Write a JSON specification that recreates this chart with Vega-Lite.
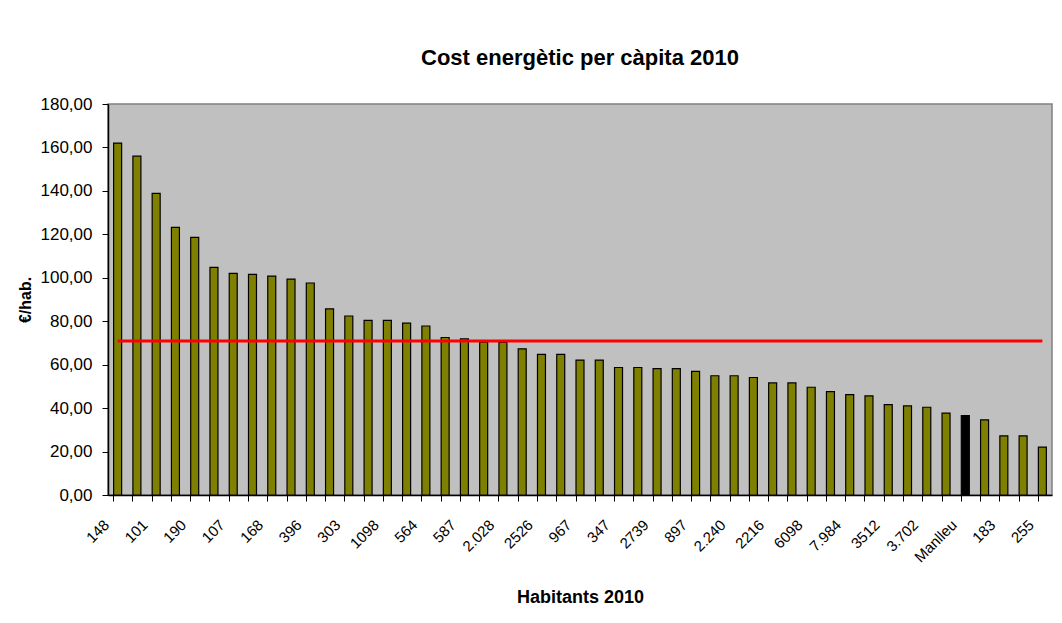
{
  "$schema": "https://vega.github.io/schema/vega-lite/v6.json",
  "width": 944,
  "height": 391,
  "autosize": "none",
  "padding": {"left": 108, "top": 104, "right": 10, "bottom": 128},
  "background": "white",
  "config": {
    "font": "Liberation Sans",
    "view": {"fill": "#C0C0C0", "stroke": "#808080", "strokeWidth": 1.5}
  },
  "title": {
    "text": "Cost energètic per càpita 2010",
    "font": "Liberation Sans",
    "fontSize": 22,
    "fontWeight": "bold",
    "color": "black",
    "anchor": "middle",
    "offset": 25
  },
  "data": {
    "values": [
      {"n": 1, "habitants": "148", "cost": 162.0, "mitjana": 70.9},
      {"n": 2, "habitants": null, "cost": 156.0, "mitjana": 70.9},
      {"n": 3, "habitants": "101", "cost": 138.9, "mitjana": 70.9},
      {"n": 4, "habitants": null, "cost": 123.2, "mitjana": 70.9},
      {"n": 5, "habitants": "190", "cost": 118.6, "mitjana": 70.9},
      {"n": 6, "habitants": null, "cost": 104.8, "mitjana": 70.9},
      {"n": 7, "habitants": "107", "cost": 102.0, "mitjana": 70.9},
      {"n": 8, "habitants": null, "cost": 101.6, "mitjana": 70.9},
      {"n": 9, "habitants": "168", "cost": 100.8, "mitjana": 70.9},
      {"n": 10, "habitants": null, "cost": 99.4, "mitjana": 70.9},
      {"n": 11, "habitants": "396", "cost": 97.6, "mitjana": 70.9},
      {"n": 12, "habitants": null, "cost": 85.7, "mitjana": 70.9},
      {"n": 13, "habitants": "303", "cost": 82.4, "mitjana": 70.9},
      {"n": 14, "habitants": null, "cost": 80.4, "mitjana": 70.9},
      {"n": 15, "habitants": "1098", "cost": 80.4, "mitjana": 70.9},
      {"n": 16, "habitants": null, "cost": 79.1, "mitjana": 70.9},
      {"n": 17, "habitants": "564", "cost": 77.8, "mitjana": 70.9},
      {"n": 18, "habitants": null, "cost": 72.5, "mitjana": 70.9},
      {"n": 19, "habitants": "587", "cost": 71.9, "mitjana": 70.9},
      {"n": 20, "habitants": null, "cost": 70.4, "mitjana": 70.9},
      {"n": 21, "habitants": "2.028", "cost": 70.2, "mitjana": 70.9},
      {"n": 22, "habitants": null, "cost": 67.3, "mitjana": 70.9},
      {"n": 23, "habitants": "2526", "cost": 64.7, "mitjana": 70.9},
      {"n": 24, "habitants": null, "cost": 64.7, "mitjana": 70.9},
      {"n": 25, "habitants": "967", "cost": 62.1, "mitjana": 70.9},
      {"n": 26, "habitants": null, "cost": 62.1, "mitjana": 70.9},
      {"n": 27, "habitants": "347", "cost": 58.7, "mitjana": 70.9},
      {"n": 28, "habitants": null, "cost": 58.7, "mitjana": 70.9},
      {"n": 29, "habitants": "2739", "cost": 58.2, "mitjana": 70.9},
      {"n": 30, "habitants": null, "cost": 58.2, "mitjana": 70.9},
      {"n": 31, "habitants": "897", "cost": 56.9, "mitjana": 70.9},
      {"n": 32, "habitants": null, "cost": 54.9, "mitjana": 70.9},
      {"n": 33, "habitants": "2.240", "cost": 54.9, "mitjana": 70.9},
      {"n": 34, "habitants": null, "cost": 54.1, "mitjana": 70.9},
      {"n": 35, "habitants": "2216", "cost": 51.6, "mitjana": 70.9},
      {"n": 36, "habitants": null, "cost": 51.6, "mitjana": 70.9},
      {"n": 37, "habitants": "6098", "cost": 49.6, "mitjana": 70.9},
      {"n": 38, "habitants": null, "cost": 47.6, "mitjana": 70.9},
      {"n": 39, "habitants": "7.984", "cost": 46.2, "mitjana": 70.9},
      {"n": 40, "habitants": null, "cost": 45.6, "mitjana": 70.9},
      {"n": 41, "habitants": "3512", "cost": 41.6, "mitjana": 70.9},
      {"n": 42, "habitants": null, "cost": 41.0, "mitjana": 70.9},
      {"n": 43, "habitants": "3.702", "cost": 40.4, "mitjana": 70.9},
      {"n": 44, "habitants": null, "cost": 37.7, "mitjana": 70.9},
      {"n": 45, "habitants": "Manlleu", "cost": 36.6, "mitjana": 70.9},
      {"n": 46, "habitants": null, "cost": 34.6, "mitjana": 70.9},
      {"n": 47, "habitants": "183", "cost": 27.2, "mitjana": 70.9},
      {"n": 48, "habitants": null, "cost": 27.2, "mitjana": 70.9},
      {"n": 49, "habitants": "255", "cost": 22.0, "mitjana": 70.9}
    ]
  },
  "encoding": {
    "x": {
      "field": "n",
      "type": "ordinal",
      "sort": "ascending",
      "scale": {"paddingInner": 0.585, "paddingOuter": 0.2925},
      "axis": {
        "title": "Habitants 2010",
        "titleFont": "Liberation Sans",
        "titleFontSize": 18,
        "titleFontWeight": "bold",
        "titleColor": "black",
        "titlePadding": 24,
        "bandPosition": 0,
        "labelExpr": "datum.value % 2 == 1 ? ['148','101','190','107','168','396','303','1098','564','587','2.028','2526','967','347','2739','897','2.240','2216','6098','7.984','3512','3.702','Manlleu','183','255'][(datum.value - 1) / 2] : ''",
        "labelAngle": -45,
        "labelAlign": "right",
        "labelBaseline": "top",
        "labelFontSize": 15,
        "labelColor": "black",
        "labelOverlap": false,
        "labelPadding": 16,
        "labelOffset": -16,
        "domainColor": "black",
        "domainWidth": 1.5,
        "tickColor": "black",
        "tickSize": 6,
        "tickWidth": 1
      }
    },
    "y": {
      "type": "quantitative",
      "scale": {"domain": [0, 180], "nice": false},
      "axis": {
        "title": "€/hab.",
        "titleFont": "Liberation Sans",
        "titleFontSize": 16,
        "titleFontWeight": "bold",
        "titleColor": "black",
        "titlePadding": 7,
        "values": [0, 20, 40, 60, 80, 100, 120, 140, 160, 180],
        "labelExpr": "replace(format(datum.value, '.2f'), '.', ',')",
        "labelFontSize": 17,
        "labelColor": "black",
        "labelPadding": 10,
        "domainColor": "black",
        "domainWidth": 1.5,
        "tickColor": "black",
        "tickSize": 6,
        "grid": false
      }
    }
  },
  "layer": [
    {
      "mark": {"type": "bar", "stroke": "black", "strokeWidth": 1.2},
      "encoding": {
        "y": {"field": "cost"},
        "color": {
          "condition": {"test": "datum.habitants === 'Manlleu'", "value": "black"},
          "value": "#808000"
        }
      }
    },
    {
      "mark": {"type": "line", "color": "#FF0000", "strokeWidth": 3},
      "encoding": {
        "y": {"field": "mitjana"}
      }
    }
  ]
}
